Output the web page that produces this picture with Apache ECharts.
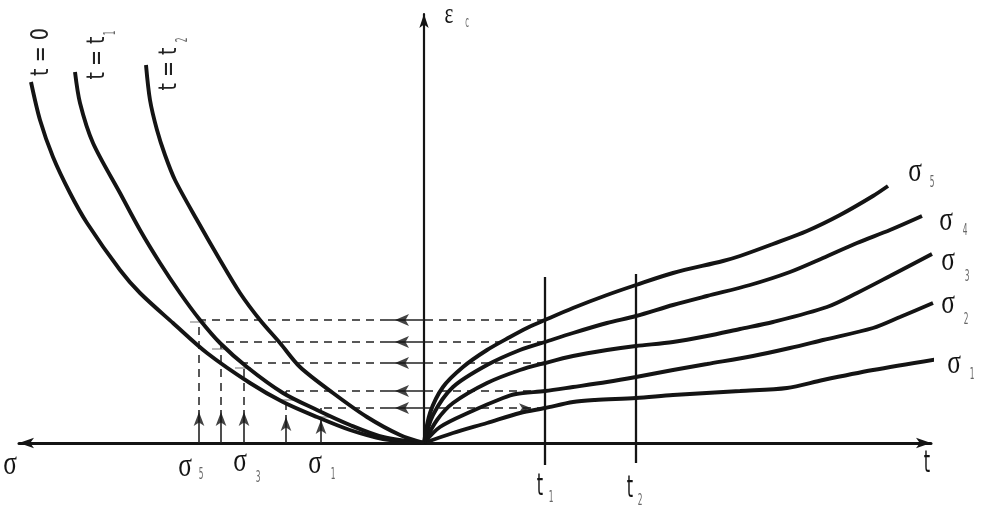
<!DOCTYPE html>
<html>
<head>
<meta charset="utf-8">
<script src="https://cdn.jsdelivr.net/npm/echarts@6/dist/echarts.min.js"></script>
<style>
html,body{margin:0;padding:0;background:#fff;}
#chart{width:981px;height:510px;}
</style>
</head>
<body>
<div id="chart"></div>
<script>
// ---- Data (t to the right, sigma to the left, strain eps upward) ----
// Creep curves eps(t) for stress levels sigma1..sigma5: [t, eps]
const creepSigma1 = [[0,0],[29,10],[63,20],[96,30],[121,35],[149,41],[171,43],[212,45],[249,48],[316,52],[363,55],[399,63],[449,73],[514,84]];
const creepSigma2 = [[0,0],[16,16],[46,31],[79,45],[92,49],[121,52],[149,56],[183,61],[212,66],[249,73],[283,79],[329,87],[366,95],[399,103],[449,115],[476,126],[509,140]];
const creepSigma3 = [[0,0],[13,23],[29,40],[63,60],[96,73],[121,80],[149,87],[183,93],[212,97],[249,101],[283,107],[316,114],[349,121],[403,136],[433,150],[466,167],[508,189]];
const creepSigma4 = [[0,0],[9,28],[29,56],[63,78],[96,93],[121,101],[149,110],[183,120],[212,127],[249,138],[283,147],[326,158],[366,171],[399,185],[433,200],[466,213],[498,227]];
const creepSigma5 = [[0,0],[6,30],[19,56],[39,76],[63,93],[86,106],[103,115],[121,123],[149,135],[183,148],[212,158],[249,170],[299,182],[316,187],[349,199],[383,212],[416,228],[449,247],[464,257]];

// Isochronous stress-strain curves: [sigma, eps]
const isoT0 = [[393,361],[384,323],[371,286],[354,250],[337,220],[304,173],[284,150],[251,120],[217,90],[174,60],[141,41],[107,26],[74,13],[41,4],[0,0]];
const isoT1 = [[349,371],[344,340],[331,300],[304,250],[284,213],[264,180],[244,150],[224,123],[204,100],[177,76],[141,50],[107,33],[74,18],[41,6],[0,0]];
const isoT2 = [[278,378],[274,343],[267,313],[259,288],[249,263],[227,223],[204,183],[184,150],[164,123],[144,100],[124,76],[91,50],[57,26],[24,8],[0,0]];

// Construction: stress levels sigma1..sigma5 and their strain at t1
const sigmaValues  = [103, 138, 180, 203, 225];
const strainAtT1   = [35, 52, 80, 101, 123];
const arrowTipEps  = [30, 33, 38, 38, 38];
const tickMarks    = [[102,26],[138,43],[181,75],[204,94],[226,121]];
const rowArrowSigma = 36;
const tMarks = [121, 212];            // t1, t2
const tMarkSpan = [[-22,166],[-20,169]];

// Labels
const curveLabels = ['σ', 'σ', 'σ', 'σ', 'σ'];
const curveSubs = ['1','2','3','4','5'];

// ---- Chart ----
const black = '#141414';
const left = arr => arr.map(p => [-p[0], p[1]]);
const series = [];

[creepSigma1, creepSigma2, creepSigma3, creepSigma4, creepSigma5].forEach(d => {
  series.push({type:'line', data:d, symbol:'none', smooth:0.3, clip:false, silent:true,
    lineStyle:{color:black, width:3.9}});
});
[isoT0, isoT1, isoT2].forEach(d => {
  series.push({type:'line', data:left(d), symbol:'none', smooth:0.3, clip:false, silent:true,
    lineStyle:{color:black, width:3.9}});
});
tMarks.forEach((t,i) => {
  series.push({type:'line', data:[[t, tMarkSpan[i][0]],[t, tMarkSpan[i][1]]], symbol:'none', clip:false, silent:true,
    lineStyle:{color:black, width:2.3}});
});

// dashed segments
const dashed = [], solidThin = [];
sigmaValues.forEach((s,i) => {
  const e = strainAtT1[i];
  dashed.push({coords:[[tMarks[0], e],[0, e]]});
  solidThin.push({coords:[[0, e],[-rowArrowSigma, e]]});
  dashed.push({coords:[[-rowArrowSigma, e],[-s, e]]});
  dashed.push({coords:[[-s, arrowTipEps[i]],[-s, e]]});
  solidThin.push({coords:[[-s, 0],[-s, arrowTipEps[i]-5]]});
});
series.push({type:'lines', coordinateSystem:'cartesian2d', data:dashed, clip:false, silent:true,
  symbol:'none', lineStyle:{color:'#222', width:1.5, type:[8,6], opacity:1}});
series.push({type:'lines', coordinateSystem:'cartesian2d', data:solidThin, clip:false, silent:true,
  symbol:'none', lineStyle:{color:'#222', width:1.6, opacity:1}});

// arrowheads
const upArrows = sigmaValues.map((s,i) => [-s, arrowTipEps[i]]);
series.push({type:'scatter', data:upArrows, symbol:'arrow', symbolSize:[8,14], symbolOffset:[0,7],
  clip:false, silent:true, itemStyle:{color:black}});
const leftArrows = strainAtT1.map(e => [-rowArrowSigma, e]);
series.push({type:'scatter', data:leftArrows, symbol:'arrow', symbolSize:[9,14], symbolRotate:90, symbolOffset:[7,0],
  clip:false, silent:true, itemStyle:{color:black}});
series.push({type:'scatter', data:[[113, strainAtT1[0]]], symbol:'arrow', symbolSize:[7,12], symbolRotate:-90, symbolOffset:[-6,0],
  clip:false, silent:true, itemStyle:{color:black}});
// tick marks on t1 isochronous curve
series.push({type:'scatter', data:left(tickMarks), symbol:'rect', symbolSize:[16,1.3],
  clip:false, silent:true, itemStyle:{color:'#777'}});

// text helper
function txt(text, x, y, size, family, sx, color, rot) {
  return {type:'text', x:x, y:y, scaleX:sx, scaleY:1, rotation:rot||0, silent:true,
    style:{text:text, font:size+'px ' + family, fill:color,
      textAlign:'center', textVerticalAlign:'middle', align:'center', verticalAlign:'middle'}};
}
const SERIF = '"Liberation Serif", "DejaVu Serif", serif';
const SANS = '"Liberation Sans Narrow", "DejaVu Sans Condensed", "Liberation Sans", sans-serif';
const subColor = '#666';
const graphics = [];
// right curve labels
const rightPos = [[954,364,972,375],[948,304,966,320],[948,261,967,277],[946,221,965,231],[915,172,932,183]];
curveLabels.forEach((l,i) => {
  const p = rightPos[i];
  graphics.push(txt(l, p[0], p[1], 34, SERIF, 0.75, black));
  graphics.push(txt(curveSubs[i], p[2], p[3], 15, SANS, 0.55, subColor));
});
// bottom labels
graphics.push(txt('σ', 10, 465, 34, SERIF, 0.75, black));
graphics.push(txt('σ', 185, 467, 34, SERIF, 0.75, black));
graphics.push(txt('5', 201, 475, 15, SANS, 0.55, subColor));
graphics.push(txt('σ', 240, 462, 34, SERIF, 0.75, black));
graphics.push(txt('3', 258, 478, 15, SANS, 0.55, subColor));
graphics.push(txt('σ', 315, 464, 34, SERIF, 0.75, black));
graphics.push(txt('1', 333, 475, 15, SANS, 0.55, subColor));
graphics.push(txt('t', 927, 464, 30, SANS, 0.6, black));
graphics.push(txt('t', 540, 487, 30, SANS, 0.6, black));
graphics.push(txt('1', 551, 498, 15, SANS, 0.55, subColor));
graphics.push(txt('t', 630, 489, 30, SANS, 0.6, black));
graphics.push(txt('2', 640, 501, 15, SANS, 0.55, subColor));
graphics.push(txt('ε', 449, 15, 30, SERIF, 0.7, black));
graphics.push(txt('c', 467, 23, 15, SANS, 0.5, subColor));
// rotated isochrone labels
graphics.push(txt('t = 0', 41, 52, 25, SANS, 0.85, '#222', Math.PI/2));
graphics.push(txt('t = t', 97, 58, 25, SANS, 0.85, '#222', Math.PI/2));
graphics.push(txt('1', 111, 33, 15, SANS, 0.55, subColor, Math.PI/2));
graphics.push(txt('t = t', 169, 69, 25, SANS, 0.85, '#222', Math.PI/2));
graphics.push(txt('2', 183, 40, 15, SANS, 0.55, subColor, Math.PI/2));

const chart = echarts.init(document.getElementById('chart'), null, {renderer:'canvas'});
chart.setOption({
  animation:false,
  backgroundColor:'#fff',
  grid:{left:19, right:50, top:14, bottom:67, containLabel:false},
  xAxis:{type:'value', min:-405, max:507,
    axisLine:{show:true, onZero:true, symbol:['arrow','arrow'], symbolSize:[8,15], lineStyle:{color:black, width:3}},
    axisTick:{show:false}, axisLabel:{show:false}, splitLine:{show:false}},
  yAxis:{type:'value', min:0, max:429,
    axisLine:{show:true, onZero:true, symbol:['none','arrow'], symbolSize:[7,14], lineStyle:{color:black, width:2.2}},
    axisTick:{show:false}, axisLabel:{show:false}, splitLine:{show:false}},
  series:series,
  graphic:graphics
});
</script>
</body>
</html>
